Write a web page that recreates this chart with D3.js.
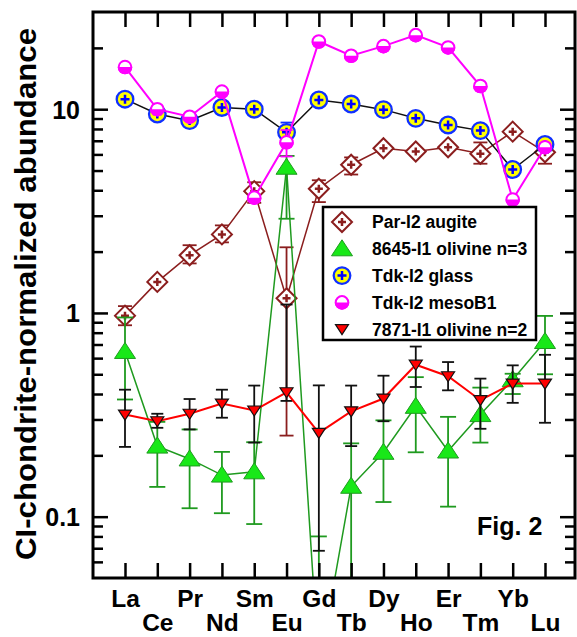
<!DOCTYPE html>
<html>
<head>
<meta charset="utf-8">
<script src="https://cdn.jsdelivr.net/npm/d3@7"></script>
<style>
body { margin: 0; background: #fff; }
svg text { font-family: "Liberation Sans", Arial, Helvetica, sans-serif; font-weight: bold; fill: #000; }
</style>
</head>
<body>
<svg id="chart" width="577" height="637"></svg>
<script>
// REE, CI-chondrite normalized
const elements = ["La", "Ce", "Pr", "Nd", "Sm", "Eu", "Gd", "Tb", "Dy", "Ho", "Er", "Tm", "Yb", "Lu"];

const augite   = [0.97, 1.42, 1.92, 2.43, 3.96, 1.18, 4.07, 5.34, 6.43, 6.2, 6.5, 6.04, 7.76, 6.15];
const augiteLo = [0.87, null, 1.75, 2.22, 3.47, 0.25, 3.5, 4.78, null, null, null, 5.4, null, 5.4];
const augiteHi = [1.08, null, 2.15, 2.69, 4.38, 2.1, 4.48, 5.8, null, null, null, 6.87, null, 7.0];

const olivine3   = [0.647, 0.222, 0.192, 0.160, 0.166, 5.19, 0.018, 0.141, 0.207, 0.348, 0.21, 0.317, 0.47, 0.724];
const olivine3Lo = [0.376, 0.14, 0.110, 0.104, 0.092, 2.9, 0.005, 0.02, 0.118, 0.207, 0.112, 0.231, 0.40, 0.5];
const olivine3Hi = [0.95, 0.292, 0.268, 0.208, 0.232, 5.9, 0.08, 0.229, 0.297, 0.484, 0.309, 0.43, 0.503, 0.967];

const glass   = [11.2, 9.47, 8.79, 10.2, 10.0, 7.70, 11.1, 10.6, 9.95, 9.02, 8.37, 7.85, 5.06, 6.71];
const glassLo = [null, null, null, null, null, 6.9, null, null, null, null, null, null, null, null];
const glassHi = [null, null, null, null, null, 8.6, null, null, null, null, null, null, null, null];

const meso   = [16.1, 10.0, 9.19, 12.2, 3.68, 6.88, 21.5, 18.3, 20.4, 23.1, 20.1, 13.0, 3.60, 6.51];
const mesoLo = [null, null, null, null, null, 5.86, null, null, null, null, null, null, null, null];
const mesoHi = [null, null, null, null, null, 7.9, null, null, null, null, null, null, null, null];

const olivine2   = [0.317, 0.294, 0.32, 0.359, 0.332, 0.408, 0.258, 0.329, 0.38, 0.557, 0.489, 0.373, 0.45, 0.45];
const olivine2Lo = [0.22, 0.273, 0.268, 0.306, 0.231, 0.37, 0.068, 0.222, 0.294, 0.433, 0.417, 0.27, 0.362, 0.289];
const olivine2Hi = [0.42, 0.32, 0.378, 0.42, 0.44, 1.1, 0.441, 0.44, 0.492, 0.684, 0.574, 0.476, 0.553, 0.623];

const yMajor = [0.1, 1, 10];
const yMinor = [0.06, 0.07, 0.08, 0.09, 0.2, 0.3, 0.4, 0.5, 0.6, 0.7, 0.8, 0.9,
                2, 3, 4, 5, 6, 7, 8, 9, 20];

const brown = "#8b1e1e";
const series = [
    {name: "Par-I2 augite", v: augite, lo: augiteLo, hi: augiteHi, line: brown, lw: 1.5, err: brown, cap: 7, sym: "diamond"},
    {name: "8645-I1 olivine n=3", v: olivine3, lo: olivine3Lo, hi: olivine3Hi, line: "#1f9a1f", lw: 1.5, err: "#1f9a1f", cap: 8, sym: "tri"},
    {name: "Tdk-I2 glass", v: glass, lo: glassLo, hi: glassHi, line: "#111", lw: 1.5, err: "#1030ff", cap: 6, sym: "glass"},
    {name: "Tdk-I2 mesoB1", v: meso, lo: mesoLo, hi: mesoHi, line: "#ff00ff", lw: 2, err: "#ff00ff", cap: 6, sym: "meso"},
    {name: "7871-I1 olivine n=2", v: olivine2, lo: olivine2Lo, hi: olivine2Hi, line: "#ff0000", lw: 2, err: "#111", cap: 6, sym: "down"}
];

const mLeft = 93, mRight = 575, mTop = 12, mBottom = 578;
const svg = d3.select("#chart");

const x = d3.scalePoint().domain(elements).range([125, 545]);
const y = d3.scaleLog().domain([0.05, 30]).range([mBottom, mTop]);

svg.append("defs").append("clipPath").attr("id", "plotclip")
    .append("rect").attr("x", mLeft).attr("y", mTop)
    .attr("width", mRight - mLeft).attr("height", mBottom - mTop);

// marker drawing
function drawSymbol(g, sym) {
    if (sym === "diamond") {
        g.append("path").attr("d", "M0,-10L10,0L0,10L-10,0Z")
            .attr("fill", "#fff").attr("stroke", brown).attr("stroke-width", 2);
        g.append("path").attr("d", "M-4,0H4M0,-4V4")
            .attr("stroke", brown).attr("stroke-width", 2.5);
    } else if (sym === "tri") {
        g.append("path").attr("d", "M0,-9L10.5,7L-10.5,7Z")
            .attr("fill", "#18e818").attr("stroke", "#1f9a1f").attr("stroke-width", 1);
    } else if (sym === "glass") {
        g.append("circle").attr("r", 8.3)
            .attr("fill", "#ffff00").attr("stroke", "#1030ff").attr("stroke-width", 2.3);
        g.append("path").attr("d", "M-4.5,0H4.5M0,-4.5V4.5")
            .attr("stroke", "#0000ff").attr("stroke-width", 2.5);
    } else if (sym === "meso") {
        g.append("circle").attr("r", 6.3)
            .attr("fill", "#fff").attr("stroke", "#ff00ff").attr("stroke-width", 2);
        g.append("path").attr("d", "M-7.3,0A7.3,7.3 0 0 0 7.3,0Z").attr("fill", "#ff00ff");
    } else if (sym === "down") {
        g.append("path").attr("d", "M-6.5,-4.5L6.5,-4.5L0,5.5Z")
            .attr("fill", "#ff0000").attr("stroke", "#111").attr("stroke-width", 1.2);
    }
}

const plot = svg.append("g").attr("clip-path", "url(#plotclip)");

series.forEach(s => {
    const g = plot.append("g");
    const idx = d3.range(elements.length);

    // error bars
    const eb = g.append("g").attr("stroke", s.err).attr("stroke-width", 1.8);
    idx.filter(i => s.lo[i] != null).forEach(i => {
        const cx = x(elements[i]);
        eb.append("line").attr("x1", cx).attr("x2", cx)
            .attr("y1", y(s.lo[i])).attr("y2", y(s.hi[i]));
        [s.lo[i], s.hi[i]].forEach(v => {
            eb.append("line").attr("x1", cx - s.cap).attr("x2", cx + s.cap)
                .attr("y1", y(v)).attr("y2", y(v));
        });
    });

    // connecting line
    g.append("path")
        .datum(idx)
        .attr("fill", "none")
        .attr("stroke", s.line)
        .attr("stroke-width", s.lw)
        .attr("d", d3.line().x(i => x(elements[i])).y(i => y(s.v[i])));

    // markers
    idx.forEach(i => {
        const m = g.append("g")
            .attr("transform", `translate(${x(elements[i])},${y(s.v[i])})`);
        drawSymbol(m, s.sym);
    });
});

// axes
const tickW = 2.5;
const xb = svg.append("g").attr("transform", `translate(0,${mBottom})`)
    .call(d3.axisBottom(x).tickSize(-15));
xb.selectAll("text")
    .attr("y", (d, i) => i % 2 === 0 ? 29 : 53)
    .attr("dy", 0)
    .style("font-size", "24.5px");
const xt = svg.append("g").attr("transform", `translate(0,${mTop})`)
    .call(d3.axisTop(x).tickSize(-15).tickFormat(""));

const yl = svg.append("g").attr("transform", `translate(${mLeft},0)`)
    .call(d3.axisLeft(y).tickValues(yMajor).tickSize(-15).tickPadding(13)
        .tickFormat(d => d < 1 ? "0.1" : d3.format("d")(d)));
yl.selectAll("text").style("font-size", "25px").attr("dy", "0.36em");
const ylm = svg.append("g").attr("transform", `translate(${mLeft},0)`)
    .call(d3.axisLeft(y).tickValues(yMinor).tickSize(-10).tickFormat(""));
const yr = svg.append("g").attr("transform", `translate(${mRight},0)`)
    .call(d3.axisRight(y).tickValues(yMajor).tickSize(-15).tickFormat(""));
const yrm = svg.append("g").attr("transform", `translate(${mRight},0)`)
    .call(d3.axisRight(y).tickValues(yMinor).tickSize(-10).tickFormat(""));

[xb, xt, yl, ylm, yr, yrm].forEach(a => {
    a.select(".domain").remove();
    a.selectAll(".tick line").attr("stroke", "#000").attr("stroke-width", tickW);
});

svg.append("rect")
    .attr("x", mLeft).attr("y", mTop)
    .attr("width", mRight - mLeft).attr("height", mBottom - mTop)
    .attr("fill", "none").attr("stroke", "#000").attr("stroke-width", 3);

// y title
svg.append("text")
    .attr("transform", `translate(36,${(28 + 560) / 2}) rotate(-90)`)
    .attr("text-anchor", "middle")
    .attr("textLength", 532)
    .attr("lengthAdjust", "spacingAndGlyphs")
    .style("font-size", "29px")
    .text("CI-chondrite-normalized abundance");

// legend
const legend = svg.append("g").attr("transform", "translate(323,207)");
legend.append("rect")
    .attr("width", 213).attr("height", 133)
    .attr("fill", "#fff").attr("stroke", "#000").attr("stroke-width", 2.5);
series.forEach((s, i) => {
    const row = legend.append("g").attr("transform", `translate(19,${15 + i * 26.8})`);
    drawSymbol(row.append("g"), s.sym);
    row.append("text")
        .attr("x", 30).attr("dy", "0.36em")
        .style("font-size", "17.5px")
        .text(s.name);
});

svg.append("text")
    .attr("x", 477).attr("y", 535)
    .style("font-size", "25px")
    .text("Fig. 2");
</script>
</body>
</html>
